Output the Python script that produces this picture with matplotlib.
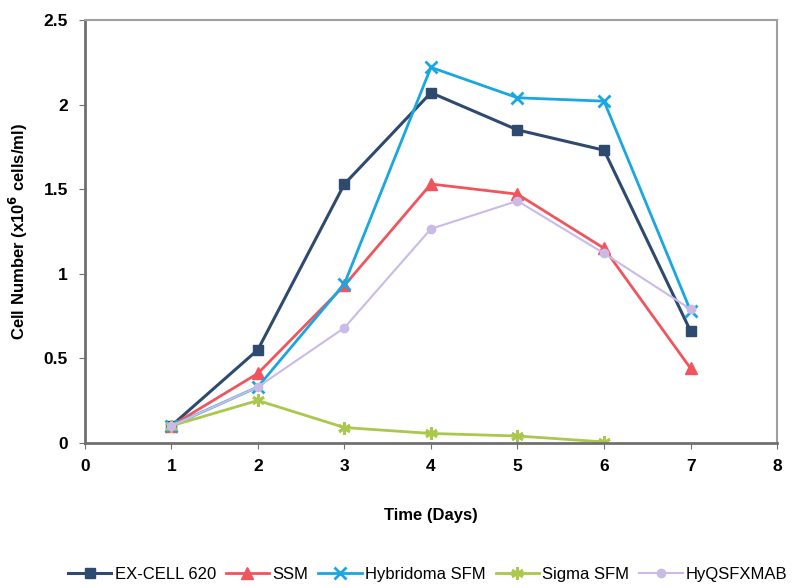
import matplotlib
matplotlib.use('Agg')
from matplotlib import pyplot as plt

days = [1, 2, 3, 4, 5, 6, 7]
excell_620 = [0.10, 0.55, 1.53, 2.07, 1.85, 1.73, 0.66]
ssm = [0.10, 0.41, 0.93, 1.53, 1.47, 1.15, 0.44]
hybridoma_sfm = [0.10, 0.33, 0.94, 2.22, 2.04, 2.02, 0.78]
sigma_days = [1, 2, 3, 4, 5, 6]
sigma_sfm = [0.10, 0.25, 0.09, 0.055, 0.04, 0.005]
hyq_sfmab = [0.10, 0.33, 0.68, 1.265, 1.43, 1.12, 0.79]

plt.rcParams['font.family'] = ['Liberation Sans', 'DejaVu Sans']

fig = plt.figure(figsize=(8.07, 5.88), dpi=100)
ax = fig.add_axes([0.105, 0.247, 0.858, 0.719])

ax.plot(days, excell_620, color='#2e4a6e', lw=2.2, marker='s', ms=7, label='EX-CELL 620')
ax.plot(days, ssm, color='#f0555e', lw=2.0, marker='^', ms=8, label='SSM')
ax.plot(days, hybridoma_sfm, color='#1aa6e0', lw=2.0, marker='x', ms=9, mew=2, label='Hybridoma SFM')
ax.plot(sigma_days, sigma_sfm, color='#a9c84c', lw=2.0, marker=(6, 2, 0), ms=9, mew=2, label='Sigma SFM')
ax.plot(days, hyq_sfmab, color='#c9bbe6', lw=1.5, marker='o', ms=6, label='HyQSFXMAB')

ax.set_xlim(0, 8)
ax.set_ylim(0, 2.5)
ax.set_xticks(range(0, 9))
ax.set_yticks([0, 0.5, 1, 1.5, 2, 2.5])
ax.set_yticklabels(['0', '0.5', '1', '1.5', '2', '2.5'])

for side in ['top', 'right']:
    ax.spines[side].set_color('#a0a0a0')
    ax.spines[side].set_linewidth(1.5)
for side in ['left', 'bottom']:
    ax.spines[side].set_color('#707070')
    ax.spines[side].set_linewidth(2)

ax.tick_params(axis='both', direction='out', length=4, color='#707070', labelsize=12.5, pad=8)
for lbl in ax.get_xticklabels() + ax.get_yticklabels():
    lbl.set_fontweight('bold')

ax.set_xlabel('Time (Days)', fontsize=12, fontweight='bold', labelpad=24)
ax.set_ylabel('Cell Number (x10$^\\mathbf{6}$ cells/ml)', fontsize=12, fontweight='bold', labelpad=10)

fig.legend(loc='lower center', bbox_to_anchor=(0.53, -0.015), ncol=5, frameon=False,
           fontsize=12, handlelength=2.6, handletextpad=0.2, columnspacing=0.6)

fig.savefig('out.png', dpi=100, facecolor='white')
